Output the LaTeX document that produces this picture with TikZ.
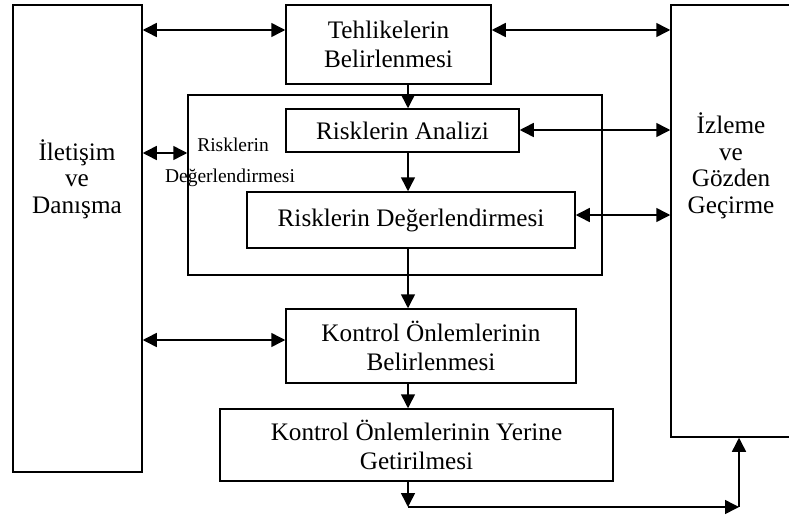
\documentclass[tikz,border=0pt]{standalone}
\usepackage{fontspec}
\setmainfont{Liberation Serif}
\usetikzlibrary{arrows.meta}
\begin{document}
\begin{tikzpicture}[x=1pt,y=-1pt,
  box/.style={draw, line width=1.5pt, rectangle, inner sep=0pt, align=center,
    font=\fontsize{25.2}{29}\selectfont},
  lbl/.style={inner sep=0pt, align=center, font=\fontsize{25.2}{26.5}\selectfont},
  small/.style={inner sep=0pt, font=\fontsize{19.5}{22}\selectfont},
  arr/.style={line width=1.5pt, -{Triangle[length=14pt,width=14pt]}},
  darr/.style={line width=1.5pt, {Triangle[length=14pt,width=14pt]}-{Triangle[length=14pt,width=14pt]}}]
\useasboundingbox (0,0) rectangle (789,519);

% side columns
\node[box, minimum width=129pt, minimum height=467pt] (com) at (77.5,238.5) {};
\node[lbl] (comtext) at (77,179) {İletişim\\ve\\Danışma};
\node[box, minimum width=120pt, minimum height=432pt] (izl) at (731,221) {};
\node[lbl] (izltext) at (731,166) {İzleme\\ve\\Gözden\\Geçirme};

% risk assessment frame
\node[draw, line width=1.5pt, minimum width=414pt, minimum height=180pt, inner sep=0pt] (frame) at (395,185) {};
\node[small] (frlab1) at (233,145) {Risklerin};
\node[small] (frlab2) at (230,178) {Değerlendirmesi};

% process steps
\node[box, minimum width=205pt, minimum height=79pt] (haz) at (388.5,44.5) {Tehlikelerin\\Belirlenmesi};
\node[box, minimum width=233pt, minimum height=43pt] (ana) at (402.5,130.5) {Risklerin Analizi};
\node[box, minimum width=328pt, minimum height=56pt] (deg) at (411,220) {Risklerin Değerlendirmesi};
\node[box, minimum width=290pt, minimum height=74pt] (kb) at (431,346) {Kontrol Önlemlerinin\\Belirlenmesi};
\node[box, minimum width=393pt, minimum height=72pt] (ky) at (416.5,445) {Kontrol Önlemlerinin Yerine\\Getirilmesi};

% main flow axis and return path corners
\coordinate (ax) at (408,0);
\coordinate (c1) at (408,507);
\coordinate (c2) at (739,507);

\draw[arr] (haz.south -| ax) -- (ana.north -| ax);
\draw[arr] (ana.south -| ax) -- (deg.north -| ax);
\draw[arr] (deg.south -| ax) -- (kb.north -| ax);
\draw[arr] (kb.south -| ax) -- (ky.north -| ax);
\draw[arr] (ky.south -| ax) -- (c1);
\draw[arr] (c1) -- (c2);
\draw[arr] (c2) -- (izl.south -| c2);

% communication links
\draw[darr] (com.east |- 0,30) -- (haz.west |- 0,30);
\draw[darr] (com.east |- 0,153) -- (frame.west |- 0,153);
\draw[darr] (com.east |- 0,340) -- (kb.west |- 0,340);

% monitoring links
\draw[darr] (haz.east |- 0,30) -- (izl.west |- 0,30);
\draw[darr] (ana.east |- 0,130) -- (izl.west |- 0,130);
\draw[darr] (deg.east |- 0,215) -- (izl.west |- 0,215);
\end{tikzpicture}
\end{document}
